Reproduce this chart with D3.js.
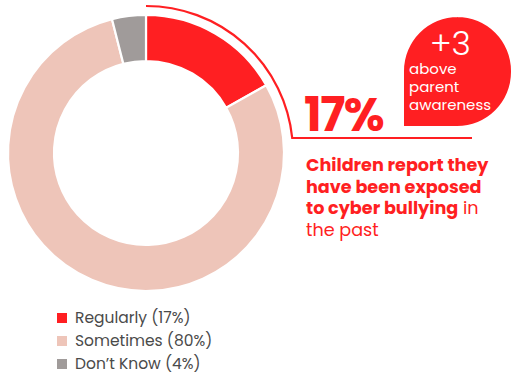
<!DOCTYPE html>
<html>
<head>
<meta charset="utf-8">
<script src="https://cdn.jsdelivr.net/npm/d3@7"></script>
<style>
  html, body { margin: 0; padding: 0; background: #fff; }
  svg { display: block; }
  text { font-family: Poppins, "Open Sans", "Noto Sans", sans-serif; }
</style>
</head>
<body>
<svg id="chart" width="511" height="374"></svg>
<script>
// Share of children by how often they report cyber bullying exposure
const categories = ["Regularly", "Sometimes", "Don\u2019t Know"];
const values = [17, 80, 4];
const colors = ["#ff1f22", "#eec5b9", "#a09b9a"];

// Callout
const headline = "17%";
const bubbleValue = "+3";
const bubbleLines = ["above", "parent", "awareness"];
const calloutLines = [
  [{ t: "Children report they", b: true }],
  [{ t: "have been exposed", b: true }],
  [{ t: "to cyber bullying", b: true }, { t: " in", b: false }],
  [{ t: "the past", b: false }]
];

const RED = "#ff1f22";
const svg = d3.select("#chart");

const cx = 146, cy = 153;
const outerR = 138, innerR = 92;

const pie = d3.pie().sort(null).value(d => d.v);
const arcs = pie(values.map((v, i) => ({ v, c: categories[i], col: colors[i] })));

const arcGen = d3.arc().innerRadius(innerR).outerRadius(outerR);

const donut = svg.append("g").attr("transform", `translate(${cx},${cy})`);
donut.selectAll("path.slice")
  .data(arcs)
  .join("path")
  .attr("class", "slice")
  .attr("d", arcGen)
  .attr("fill", d => d.data.col)
  .attr("stroke", "#fff")
  .attr("stroke-width", 2.2);

// Thin outline hugging the "Regularly" slice, then running out to the callout
const ringR = 147;
const lineY = 138;
const lineEndX = 472;
const endAngle = Math.acos((cy - lineY) / ringR); // angle from 12 o'clock
const p = d3.path();
p.moveTo(cx, cy - ringR);
p.arc(cx, cy, ringR, -Math.PI / 2, -Math.PI / 2 + endAngle, false);
p.lineTo(lineEndX, lineY);
svg.append("path")
  .attr("d", p.toString())
  .attr("fill", "none")
  .attr("stroke", RED)
  .attr("stroke-width", 2.2);

// Headline number
svg.append("text")
  .attr("x", 304)
  .attr("y", 131)
  .attr("fill", RED)
  .attr("font-weight", 700)
  .attr("font-size", 47)
  .attr("letter-spacing", -1.5)
  .text(headline);

// Bubble: rounded on three corners, square at bottom-left
const bx = 404, by = 17, bw = 107, bh = 109, br = 54;
const bp = d3.path();
bp.moveTo(bx, by + bh);
bp.lineTo(bx, by + br);
bp.arcTo(bx, by, bx + br, by, br);
bp.lineTo(bx + bw - br, by);
bp.arcTo(bx + bw, by, bx + bw, by + br, br);
bp.lineTo(bx + bw, by + bh - br);
bp.arcTo(bx + bw, by + bh, bx + bw - br, by + bh, br);
bp.closePath();
svg.append("path").attr("d", bp.toString()).attr("fill", RED);

svg.append("text")
  .attr("x", 430)
  .attr("y", 55)
  .attr("fill", "#fff")
  .attr("font-weight", 300)
  .attr("font-size", 33)
  .text(bubbleValue);

svg.append("g").selectAll("text")
  .data(bubbleLines)
  .join("text")
  .attr("x", 409)
  .attr("y", (d, i) => 74 + i * 18)
  .attr("fill", "#fff")
  .attr("font-size", 15)
  .text(d => d);

// Callout sentence
const cl = svg.append("g");
calloutLines.forEach((line, i) => {
  const t = cl.append("text")
    .attr("x", 306)
    .attr("y", 171 + i * 21.5)
    .attr("fill", RED)
    .attr("font-size", 17.6);
  line.forEach(seg => {
    t.append("tspan")
      .attr("font-weight", seg.b ? 700 : 400)
      .text(seg.t);
  });
});

// Legend
const legend = svg.append("g");
const rows = legend.selectAll("g")
  .data(categories.map((c, i) => ({ c, v: values[i], col: colors[i] })))
  .join("g")
  .attr("transform", (d, i) => `translate(57,${313 + i * 23})`);
rows.append("rect")
  .attr("width", 10).attr("height", 10)
  .attr("fill", d => d.col);
rows.append("text")
  .attr("x", 18)
  .attr("y", 10)
  .attr("fill", "#4a4a4a")
  .attr("font-size", 15.5)
  .text(d => `${d.c} (${d.v}%)`);
</script>
</body>
</html>
